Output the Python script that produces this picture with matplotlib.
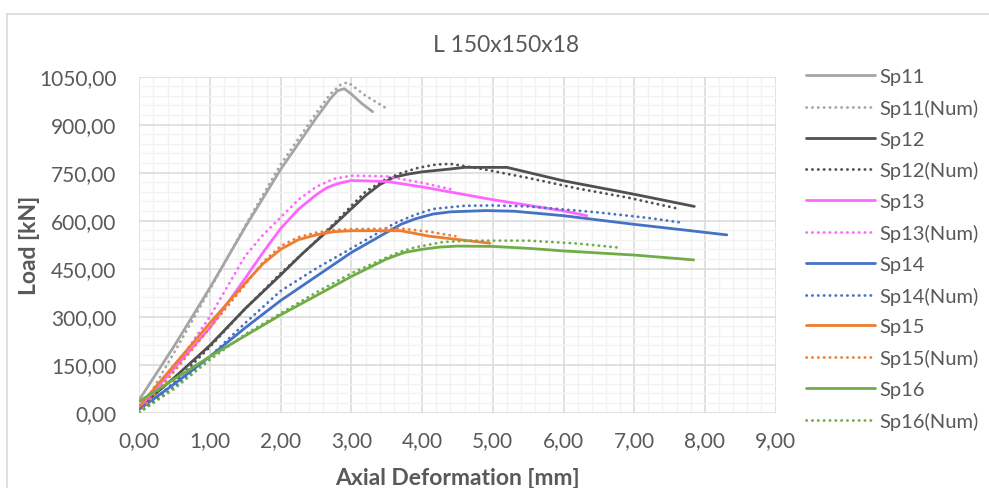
import matplotlib
matplotlib.use("Agg")
import matplotlib.pyplot as plt
from matplotlib.lines import Line2D
from matplotlib.ticker import MultipleLocator, FuncFormatter

plt.rcParams['font.family'] = ['Lato', 'DejaVu Sans']

TEXT = '#595959'

# ---- data (deformation mm, load kN) ----
sp11_x = [0.0, 0.5, 1.0, 1.5, 2.0, 2.5, 2.7, 2.8, 2.9, 3.0, 3.15, 3.3]
sp11_y = [40, 210, 390, 580, 760, 920, 980, 1005, 1012, 995, 965, 940]
sp11n_x = [0.0, 0.5, 1.0, 1.5, 2.0, 2.5, 2.7, 2.85, 2.95, 3.2, 3.5]
sp11n_y = [0, 190, 385, 585, 775, 935, 995, 1025, 1032, 990, 950]

sp12_x = [0.0, 0.5, 1.0, 1.5, 2.0, 2.3, 2.75, 3.2, 3.4, 3.6, 3.8, 4.0, 4.4, 4.6, 5.2, 6.0, 7.0, 7.85]
sp12_y = [15, 110, 210, 325, 430, 495, 585, 678, 712, 735, 745, 752, 761, 766, 766, 724, 682, 644]
sp12n_x = [0.0, 0.5, 1.0, 1.5, 2.0, 2.4, 2.75, 3.2, 3.45, 3.7, 3.95, 4.2, 4.4, 4.8, 5.5, 6.2, 6.9, 7.6]
sp12n_y = [0, 95, 205, 325, 435, 515, 590, 690, 725, 748, 765, 775, 777, 763, 733, 700, 672, 638]

sp13_x = [0.0, 0.5, 1.0, 1.5, 1.75, 2.0, 2.25, 2.5, 2.65, 2.8, 3.0, 3.5, 4.0, 5.0, 6.0, 6.33]
sp13_y = [15, 140, 265, 420, 500, 575, 635, 680, 702, 715, 725, 722, 705, 665, 630, 615]
sp13n_x = [0.0, 0.5, 1.0, 1.5, 1.75, 2.0, 2.25, 2.5, 2.75, 3.0, 3.5, 4.0, 4.4]
sp13n_y = [0, 140, 300, 490, 555, 610, 665, 705, 730, 740, 738, 718, 698]

sp14_x = [0.0, 0.5, 1.0, 1.5, 2.0, 2.5, 3.0, 3.5, 3.7, 3.9, 4.15, 4.4, 4.9, 5.3, 6.0, 7.0, 7.8, 8.31]
sp14_y = [10, 90, 175, 265, 350, 425, 500, 563, 588, 605, 620, 627, 631, 629, 615, 588, 568, 555]
sp14n_x = [0.0, 0.5, 1.0, 1.5, 2.0, 2.5, 3.0, 3.6, 3.9, 4.15, 4.6, 5.0, 5.5, 6.5, 7.2, 7.65]
sp14n_y = [0, 80, 175, 280, 380, 450, 513, 590, 618, 636, 646, 647, 644, 625, 608, 594]

sp15_x = [0.0, 0.5, 1.0, 1.5, 1.75, 2.0, 2.25, 2.5, 2.75, 3.0, 3.7, 4.1, 4.96]
sp15_y = [20, 150, 280, 405, 465, 510, 540, 555, 565, 568, 568, 551, 529]
sp15n_x = [0.0, 0.5, 1.0, 1.5, 1.75, 2.0, 2.25, 2.5, 2.75, 3.0, 3.7, 4.1, 4.47]
sp15n_y = [0, 130, 265, 400, 470, 520, 548, 562, 570, 573, 575, 565, 551]

sp16_x = [0.0, 0.5, 1.0, 1.5, 2.0, 2.5, 3.0, 3.5, 3.75, 4.0, 4.25, 4.5, 5.0, 5.5, 6.0, 7.0, 7.84]
sp16_y = [35, 105, 175, 240, 305, 365, 425, 480, 500, 510, 517, 520, 519, 513, 505, 492, 477]
sp16n_x = [0.0, 0.5, 1.0, 1.5, 2.0, 2.5, 3.0, 3.5, 3.7, 3.9, 4.3, 4.7, 5.5, 6.2, 6.75]
sp16n_y = [0, 75, 165, 245, 310, 375, 435, 485, 503, 516, 533, 537, 537, 528, 516]

labels = ['Sp11', 'Sp11(Num)', 'Sp12', 'Sp12(Num)', 'Sp13', 'Sp13(Num)',
          'Sp14', 'Sp14(Num)', 'Sp15', 'Sp15(Num)', 'Sp16', 'Sp16(Num)']
colors = ['#A5A5A5', '#505050', '#FF66FF', '#4472C4', '#ED7D31', '#70AD47']

series = [(sp11_x, sp11_y), (sp11n_x, sp11n_y), (sp12_x, sp12_y), (sp12n_x, sp12n_y),
          (sp13_x, sp13_y), (sp13n_x, sp13n_y), (sp14_x, sp14_y), (sp14n_x, sp14n_y),
          (sp15_x, sp15_y), (sp15n_x, sp15n_y), (sp16_x, sp16_y), (sp16n_x, sp16n_y)]

fig = plt.figure(figsize=(9.89, 4.89), dpi=100)
ax = fig.add_axes([139.3 / 989, 75.5 / 489, (775.6 - 139.3) / 989, (413.5 - 77.5) / 489])

for i, ((xs, ys), lab) in enumerate(zip(series, labels)):
    c = colors[i // 2]
    if i % 2 == 0:
        ax.plot(xs, ys, color=c, lw=2.0, label=lab, solid_capstyle='round',
                solid_joinstyle='round', zorder=3)
    else:
        ax.plot(xs, ys, color=c, lw=2.0, ls=(0, (0.1, 2.0)), dash_capstyle='round',
                label=lab, zorder=3)

ax.set_xlim(0, 9)
ax.set_ylim(0, 1050)
ax.xaxis.set_major_locator(MultipleLocator(1))
ax.xaxis.set_minor_locator(MultipleLocator(0.2))
ax.yaxis.set_major_locator(MultipleLocator(150))
ax.yaxis.set_minor_locator(MultipleLocator(30))
fmt = FuncFormatter(lambda v, p: f"{v:.2f}".replace('.', ','))
ax.xaxis.set_major_formatter(fmt)
ax.yaxis.set_major_formatter(fmt)

ax.grid(which='minor', color='#F2F2F2', lw=1.0, zorder=0)
ax.grid(which='major', color='#D9D9D9', lw=1.1, zorder=1)
ax.set_axisbelow(True)
for s in ax.spines.values():
    s.set_visible(False)
ax.tick_params(which='both', length=0, labelsize=15, colors=TEXT)
ax.tick_params(axis='y', pad=16.5)
ax.tick_params(axis='x', pad=13)

ax.set_xlabel('Axial Deformation [mm]', fontsize=16.5, fontweight='bold', color=TEXT, labelpad=12)
ax.set_ylabel('Load [kN]', fontsize=16.5, fontweight='bold', color=TEXT, labelpad=-1)

fig.text(506 / 989, 1 - 45 / 489, 'L 150x150x18', ha='center', va='center',
         fontsize=16.5, color=TEXT)

leg = fig.legend(*ax.get_legend_handles_labels(), loc='upper left',
                 bbox_to_anchor=(798 / 989, 1 - 61 / 489), frameon=False,
                 fontsize=14.5, handlelength=3.4, handletextpad=0.25,
                 labelspacing=0.68, borderaxespad=0)
for t in leg.get_texts():
    t.set_color(TEXT)

# chart frame (light gray border)
fig.add_artist(Line2D([7 / 989, 7 / 989], [0, 1 - 15 / 489], color='#D9D9D9', lw=1.2,
                      transform=fig.transFigure))
fig.add_artist(Line2D([7 / 989, 1], [1 - 15 / 489, 1 - 15 / 489], color='#D9D9D9', lw=1.2,
                      transform=fig.transFigure))

fig.savefig('out.png', dpi=100)
